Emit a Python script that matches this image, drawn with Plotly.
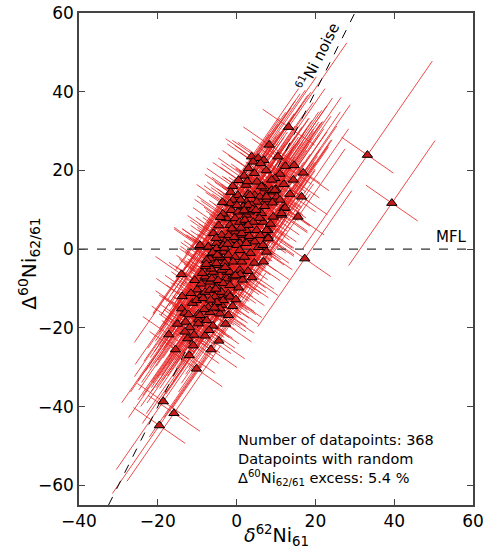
import plotly.graph_objects as go

# delta62Ni61 (x) and Delta60Ni62/61 (y) values
x_vals = [39.4, 33.2, 13.2, 8.3, 3.8, 5.5, 6.9, 4.2, 6.1, 12.4, 14.6, 16.9, 11.0, 1.9, 4.5, 9.7, 8.9, 14.4,
          5.2, 2.4, 6.5, 7.2, 10.0, 9.3, 16.5, 0.3, -0.9, -1.7, 2.9, 4.6, 5.9, 7.6, 10.2, 11.0, 12.0, 9.3,
          11.4, 15.6, -5.9, 8.0, 8.0, -9.3, -7.2,
          7.6, 6.8, 17.3, -14.0, 2.9, -10.0, -8.9, -11.2, -14.0, -13.1, -2.1, -4.2, -9.7, -8.5, -9.7,
          -12.9, -11.9, -13.1, -17.2, -12.4, -4.5, -10.2, -18.6, -15.9, -19.6,
          -8.0, -6.8, -5.9, -7.6, -4.7, -4.2, -6.8, -3.4, -2.5, -3.4, -3.8, -6.8, -7.6, -9.3, -9.7, -4.2, -10.2,
          6.3, 8.9, 9.7, 7.6, 3.4, 2.5, 5.1, 3.8, 12.3, 11.4, 6.3, 6.8, 4.2, 2.5, 5.1, 7.6, 8.0, 1.7, 2.5,
          1.3, 3.4, 4.6, 2.1,
          1.0, -1.3, 0.4, 1.7, 2.9, -2.5, -0.4, 0.8, 2.1, -1.7, 2.9, -3.8, -0.4, 1.3, -3.0, -0.9, -5.1, 0.8,
          -9.3, -7.2, -5.1, -3.4, -1.7, 0.0, 2.5, 0.8, -6.3, -4.2, -2.1, -0.4, -7.6, -5.1, -3.0, -0.9, 1.3,
          -5.9, -3.8, -1.7, 0.8, -8.0, -6.3, -4.7, -2.5, -0.9, -3.4, -5.1, -1.7, -6.8, -3.8, -2.1, -5.5,
          -8.5, -3.4, -1.7,
          -1.0, 0.5, -0.2, 1.5, -6.0, -5.0, -7.2, -11.0, -8.0, -6.5, 3.5, 4.5, 2.0, 5.5, 6.0, 3.0, -2.0,
          -4.5, -1.0, 0.5, 3.0, 7.5, 10.5, 12.0, 13.5, -3.5, -6.5, -2.8, -15.5, -12.0,
          -2.9, -1.2, 0.9, 3.2, -4.1, -6.1, -7.9, -9.0, -10.6, -5.3, -3.1, -0.6, 1.9, 4.1, 5.8, 7.1, 9.1,
          -11.6, -8.7, -6.6, -4.9, -2.3, -0.3, 1.1, 3.9, 6.7, 8.6, -1.5, -3.6, -5.6, -7.0, -8.2, -10.8,
          -12.2, -13.8, -15.0, -7.7, -5.2, 0.1, 2.7, 4.9]
y_vals = [11.7, 23.9, 31.0, 26.5, 23.5, 23.1, 22.6, 22.2, 21.8, 21.1, 21.3, 19.4, 19.1, 18.6, 19.3, 18.0, 17.6, 17.6,
          17.1, 16.3, 16.0, 15.4, 15.2, 14.6, 13.3, 13.7, 12.5, 11.6, 14.0, 13.7, 13.3, 12.6, 13.3, 12.5, 10.4, 8.2,
          8.7, 8.2, 4.0, 4.8, 3.1, 0.6, 0.6,
          -0.7, -3.2, -2.4, -6.4, -5.6, -10.3, -11.7, -13.7, -15.1, -16.2, -16.8, -16.4, -16.4, -17.9, -17.9,
          -18.5, -19.9, -21.0, -21.7, -22.7, -23.3, -30.4, -38.7, -41.7, -44.8,
          -10.9, -8.3, -7.0, -7.5, -4.1, -2.4, -2.4, -0.7, -5.8, -11.7, -14.2, -16.0, -18.1, -16.8, -18.9, -15.1, -13.0,
          15.9, 15.0, 15.0, 13.3, 13.7, 12.0, 12.0, 11.2, 10.5, 9.1, 9.1, 6.9, 6.9, 8.7, 4.8, 4.8, 2.7, 6.1, 4.8,
          3.6, 2.7, 1.9, 1.5,
          12.5, 9.9, 9.5, 10.8, 11.2, 7.8, 7.8, 6.9, 7.4, 6.1, 6.1, 3.6, 4.4, 4.0, 1.9, 2.3, 1.5, 1.5,
          1.0, 0.6, 0.2, 1.0, 1.5, 1.0, 1.5, -0.3, -1.1, -2.0, -1.5, -2.0, -2.8, -3.6, -3.6, -3.2, -3.2,
          -5.8, -5.3, -5.8, -5.3, -7.0, -7.5, -7.9, -7.5, -7.0, -8.7, -9.6, -9.2, -10.4, -10.9, -11.3, -12.1,
          -12.5, -13.0, -12.1,
          -14.5, -9.8, -12.8, -7.8, -19.5, -13.5, -14.8, -24.5, -22.0, -25.5, -1.0, -3.5, -2.0, 0.5, 3.5, 9.5, 3.5,
          6.0, 16.0, 17.5, 20.5, 20.0, 23.5, 16.5, 14.0, 9.0, -5.0, -19.0, -25.5, -27.0,
          -4.6, 5.2, -6.4, 3.3, 8.1, -0.9, -4.4, -8.8, -7.9, -10.1, 0.3, 3.0, 9.8, 10.1, 7.9, 10.9, 11.8,
          -11.2, -6.1, -12.9, -1.5, 1.3, -6.7, 5.4, -7.2, 1.0, 6.4, 14.5, 11.9, -14.9, -20.6, -15.3, -21.8,
          -16.6, -12.0, -19.0, -3.8, 2.8, 11.1, 17.2, 9.9]

# correlated uncertainty (half-lengths along the two principal directions, data units)
err_long_default = 21.0
err_short_default = 8.0
err_long_override = {0: 19.3, 1: 29.0, 2: 26.0}
long_dir = (0.568, 0.823)
short_dir = (0.822, -0.569)

ticks = [-40, -20, 0, 20, 40, 60]
yticks = [-60, -40, -20, 0, 20, 40, 60]
noise_slope = 2.0

seg_x, seg_y = [], []
for i, (xv, yv) in enumerate(zip(x_vals, y_vals)):
    L = err_long_override.get(i, err_long_default)
    S = err_short_default
    seg_x += [xv - L * long_dir[0], xv + L * long_dir[0], None,
              xv - S * short_dir[0], xv + S * short_dir[0], None]
    seg_y += [yv - L * long_dir[1], yv + L * long_dir[1], None,
              yv - S * short_dir[1], yv + S * short_dir[1], None]

fig = go.Figure()
fig.add_trace(go.Scatter(x=seg_x, y=seg_y, mode="lines",
                         line=dict(color="rgba(230,30,30,0.8)", width=1),
                         hoverinfo="skip", showlegend=False))
# MFL
fig.add_trace(go.Scatter(x=[-40, 60], y=[0, 0], mode="lines",
                         line=dict(color="#333333", width=1.2, dash="dash"), showlegend=False))
# 61Ni noise line
nx = [-65 / noise_slope, 60 / noise_slope]
fig.add_trace(go.Scatter(x=nx, y=[noise_slope * v for v in nx], mode="lines",
                         line=dict(color="black", width=1, dash="dash"), showlegend=False))
fig.add_trace(go.Scatter(x=x_vals, y=y_vals, mode="markers",
                         marker=dict(symbol="triangle-up", size=9, color="#c41a1a",
                                     line=dict(color="black", width=1)),
                         showlegend=False))

font = "DejaVu Sans"
fig.add_annotation(x=20.6, y=49.0, xref="x", yref="y", text="<sup>61</sup>Ni noise",
                   showarrow=False, textangle=-63, font=dict(family=font, size=15, color="black"))
fig.add_annotation(x=54.6, y=3.0, xref="x", yref="y", text="MFL", showarrow=False,
                   font=dict(family=font, size=15, color="black"))
fig.add_annotation(x=0.398, y=0.152, xref="paper", yref="paper", xanchor="left", yanchor="top",
                   align="left", showarrow=False,
                   text="Number of datapoints: 368<br>Datapoints with random<br>"
                        "Δ<sup>60</sup>Ni<sub>62/61</sub> excess: 5.4 %",
                   font=dict(family=font, size=14.5, color="black"))
# axis titles
fig.add_annotation(x=0.5, y=-0.063, xref="paper", yref="paper", xanchor="center", yanchor="middle",
                   showarrow=False, text="<i>δ</i><sup>62</sup>Ni<sub>61</sub>",
                   font=dict(family=font, size=19, color="black"))
fig.add_annotation(x=-0.125, y=0.49, xref="paper", yref="paper", xanchor="center", yanchor="middle",
                   showarrow=False, textangle=-90, text="Δ<sup>60</sup>Ni<sub>62/61</sub>",
                   font=dict(family=font, size=20, color="black"))

axis_common = dict(showgrid=False, zeroline=False, showline=True, linecolor="#444444", linewidth=1.5,
                   mirror="ticks", ticks="inside", ticklen=6, tickwidth=1.2, tickcolor="#444444",
                   automargin=False, tickfont=dict(family=font, size=17, color="black"))
fig.update_xaxes(range=[-40, 60], tickvals=ticks,
                 ticktext=["\u2212" + str(-t) if t < 0 else str(t) for t in ticks], **axis_common)
fig.update_yaxes(range=[-65, 60], tickvals=yticks,
                 ticktext=["\u2212" + str(-t) if t < 0 else str(t) for t in yticks], **axis_common)
fig.update_layout(width=485, height=551, margin=dict(l=79, r=12, t=13, b=46),
                  plot_bgcolor="white", paper_bgcolor="white")
fig.write_html("out.html")
